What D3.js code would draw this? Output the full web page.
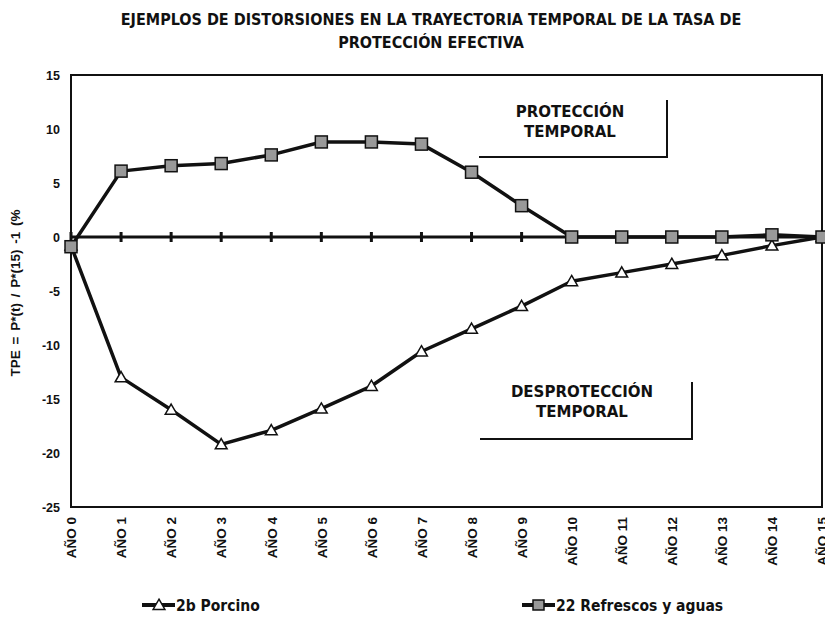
<!DOCTYPE html>
<html>
<head>
<meta charset="utf-8">
<script src="https://cdn.jsdelivr.net/npm/d3@7"></script>
<style>
  body { margin: 0; background: #fff; }
  svg { display: block; }
  .narrow { font-family: "Liberation Sans Narrow", "Arial Narrow", "DejaVu Sans Condensed", sans-serif; font-weight: bold; fill: #111; }
  .axis text { font-family: "Liberation Sans", Arial, sans-serif; font-weight: bold; fill: #111; }
  .note { font-family: "DejaVu Sans", Verdana, sans-serif; font-weight: bold; font-size: 15px; fill: #111; }
</style>
</head>
<body>
<svg id="chart" width="825" height="620"></svg>
<script>
// Datos
const years = ["AÑO 0", "AÑO 1", "AÑO 2", "AÑO 3", "AÑO 4", "AÑO 5", "AÑO 6", "AÑO 7",
               "AÑO 8", "AÑO 9", "AÑO 10", "AÑO 11", "AÑO 12", "AÑO 13", "AÑO 14", "AÑO 15"];
const porcino = [-0.8, -13.0, -16.0, -19.2, -17.9, -15.9, -13.8, -10.6,
                 -8.5, -6.4, -4.1, -3.3, -2.5, -1.7, -0.8, 0];
const refrescos = [-0.9, 6.1, 6.6, 6.8, 7.6, 8.8, 8.8, 8.6,
                   6.0, 2.9, 0, 0, 0, 0, 0.2, 0];
const yTicks = [-25, -20, -15, -10, -5, 0, 5, 10, 15];
const seriesNames = ["2b Porcino", "22 Refrescos y aguas"];

const svg = d3.select("#chart");
const plotLeft = 71, plotRight = 822, plotTop = 75, plotBottom = 507;

const x = d3.scalePoint().domain(years).range([plotLeft, plotRight]);
const y = d3.scaleLinear().domain([-25, 15]).range([plotBottom, plotTop]);

// Título
svg.append("text").attr("class", "narrow")
  .attr("x", 431).attr("y", 25).attr("text-anchor", "middle").attr("font-size", "16px")
  .text("EJEMPLOS DE DISTORSIONES EN LA TRAYECTORIA TEMPORAL DE LA TASA DE");
svg.append("text").attr("class", "narrow")
  .attr("x", 431).attr("y", 48).attr("text-anchor", "middle").attr("font-size", "16px")
  .text("PROTECCIÓN EFECTIVA");

// Marco del área de trazado
svg.append("rect")
  .attr("x", plotLeft).attr("y", plotTop)
  .attr("width", plotRight - plotLeft).attr("height", plotBottom - plotTop)
  .attr("fill", "none").attr("stroke", "#111").attr("stroke-width", 2);

// Eje Y
svg.append("g").attr("class", "axis")
  .attr("transform", `translate(${plotLeft},0)`)
  .call(d3.axisLeft(y).tickValues(yTicks).tickSize(0).tickPadding(11)
    .tickFormat(d => String(d)))
  .call(g => g.select(".domain").remove())
  .selectAll("text").attr("font-size", "12.5px");

// Eje X (etiquetas giradas)
svg.append("g").attr("class", "axis")
  .attr("transform", `translate(0,${plotBottom})`)
  .call(d3.axisBottom(x).tickSize(0))
  .call(g => g.select(".domain").remove())
  .selectAll("text")
    .attr("font-size", "13.5px")
    .attr("transform", "rotate(-90)")
    .attr("text-anchor", "end")
    .attr("x", -10).attr("y", 0).attr("dy", "0.35em");

// Título del eje Y
svg.append("text")
  .attr("transform", `translate(20,${(plotTop + plotBottom) / 2 + 2}) rotate(-90)`)
  .attr("text-anchor", "middle")
  .attr("font-family", "Liberation Sans, Arial, sans-serif")
  .attr("font-weight", "bold").attr("font-size", "13.5px").attr("fill", "#111")
  .attr("word-spacing", "2px")
  .text("TPE = P*(t) / P*(15) -1  (%");

// Línea de cero con marcas
svg.append("line")
  .attr("x1", plotLeft).attr("x2", plotRight).attr("y1", y(0)).attr("y2", y(0))
  .attr("stroke", "#111").attr("stroke-width", 3);
svg.append("g").selectAll("line").data(years).join("line")
  .attr("x1", d => x(d)).attr("x2", d => x(d))
  .attr("y1", y(0) - 5).attr("y2", y(0) + 5)
  .attr("stroke", "#111").attr("stroke-width", 3);

// Anotaciones
function note(lines, cx, y0, bx, by, bTop, bLeft) {
  lines.forEach((t, i) => {
    svg.append("text").attr("class", "note")
      .attr("x", cx).attr("y", y0 + i * 20).attr("text-anchor", "middle").text(t);
  });
  svg.append("path")
    .attr("d", `M${bx},${bTop} L${bx},${by} L${bLeft},${by}`)
    .attr("fill", "none").attr("stroke", "#111").attr("stroke-width", 2);
}
note(["PROTECCIÓN", "TEMPORAL"], 570, 117, 667, 157, 100, 479);
note(["DESPROTECCIÓN", "TEMPORAL"], 582, 397, 692, 439, 382, 480);

// Series
const line = d3.line().x((d, i) => x(years[i])).y(d => y(d));
const triangle = d3.symbol().type(d3.symbolTriangle).size(60);

svg.append("path").datum(porcino)
  .attr("d", line).attr("fill", "none")
  .attr("stroke", "#111").attr("stroke-width", 3.5).attr("stroke-linejoin", "round");
svg.append("path").datum(refrescos)
  .attr("d", line).attr("fill", "none")
  .attr("stroke", "#111").attr("stroke-width", 3.5).attr("stroke-linejoin", "round");

svg.append("g").selectAll("path").data(porcino).join("path")
  .attr("d", triangle)
  .attr("transform", (d, i) => `translate(${x(years[i])},${y(d) + 1})`)
  .attr("fill", "#fff").attr("stroke", "#111").attr("stroke-width", 1.5);

svg.append("g").selectAll("rect").data(refrescos).join("rect")
  .attr("x", (d, i) => x(years[i]) - 6).attr("y", d => y(d) - 6)
  .attr("width", 12).attr("height", 12)
  .attr("fill", "#999").attr("stroke", "#111").attr("stroke-width", 1.5);

// Leyenda
const legendY = 605;
const legendX = [142, 522];
seriesNames.forEach((name, i) => {
  const g = svg.append("g").attr("transform", `translate(${legendX[i]},${legendY})`);
  g.append("line").attr("x1", 0).attr("x2", 33).attr("y1", 0).attr("y2", 0)
    .attr("stroke", "#111").attr("stroke-width", 4);
  if (i === 0) {
    g.append("path").attr("d", triangle).attr("transform", "translate(17,1)")
      .attr("fill", "#fff").attr("stroke", "#111").attr("stroke-width", 1.5);
  } else {
    g.append("rect").attr("x", 11).attr("y", -5).attr("width", 11).attr("height", 10)
      .attr("fill", "#999").attr("stroke", "#111").attr("stroke-width", 1.5);
  }
  g.append("text").attr("class", "narrow")
    .attr("x", 34).attr("y", 6).attr("font-size", "15.5px").text(name);
});
</script>
</body>
</html>
